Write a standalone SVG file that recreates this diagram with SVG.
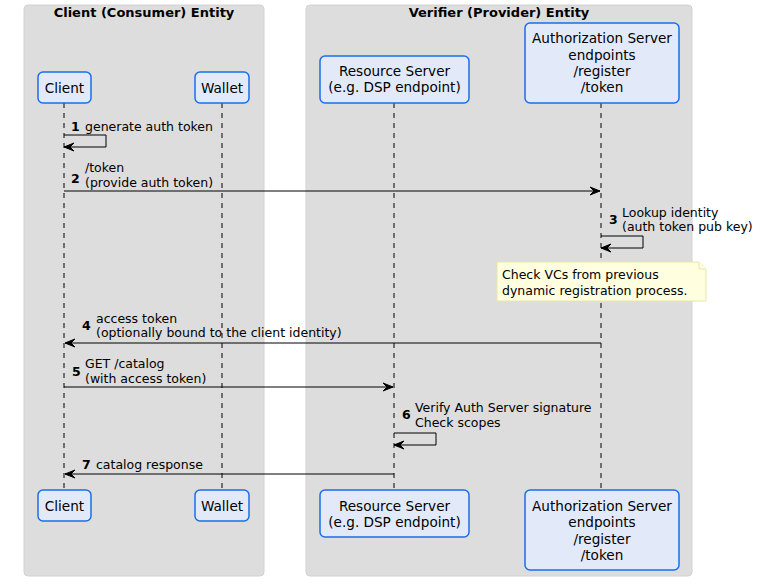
<svg xmlns="http://www.w3.org/2000/svg" width="765" height="585" viewBox="0 0 765 585">
<defs>
<style>
.box{fill:#dddddd;stroke:#d2d2d2;stroke-width:1}
.title{font-family:"DejaVu Sans",sans-serif;font-size:13px;font-weight:bold;fill:#000;text-anchor:middle}
.part{fill:#e2eafa;stroke:#1a6ee8;stroke-width:1.5}
.pt{font-family:"DejaVu Sans",sans-serif;font-size:13.6px;fill:#000;text-anchor:middle}
.life{stroke:#000;stroke-width:1;stroke-dasharray:5,5;fill:none}
.msg{stroke:#000;stroke-width:1;fill:none}
.mt{font-family:"DejaVu Sans",sans-serif;font-size:12.5px;fill:#000}
.num{font-family:"DejaVu Sans",sans-serif;font-size:12.5px;font-weight:bold;fill:#000}
.ah{fill:#000;stroke:#000;stroke-width:1}
.note{fill:#ffffe0;stroke:#e8e6a8;stroke-width:1}
</style>
</defs>
<rect width="765" height="585" fill="#ffffff"/>
<g id="group-client-entity">
<rect class="box" x="24" y="5" width="240" height="571" rx="4"/>
<text class="title" x="144" y="17">Client (Consumer) Entity</text>
</g>
<g id="group-verifier-entity">
<rect class="box" x="306" y="5" width="386" height="571" rx="4"/>
<text class="title" x="499" y="17">Verifier (Provider) Entity</text>
</g>
<g id="lifelines">
<line class="life" x1="64" y1="103" x2="64" y2="490"/>
<line class="life" x1="222" y1="103" x2="222" y2="490"/>
<line class="life" x1="394" y1="103" x2="394" y2="490"/>
<line class="life" x1="601" y1="103" x2="601" y2="490"/>
</g>
<g id="client">
<rect class="part" x="38" y="72" width="53" height="31" rx="5"/>
<text class="pt" x="64.5" y="93">Client</text>
<rect class="part" x="38" y="490" width="53" height="31" rx="5"/>
<text class="pt" x="64.5" y="511">Client</text>
</g>
<g id="wallet">
<rect class="part" x="195" y="72" width="54" height="31" rx="5"/>
<text class="pt" x="222" y="93">Wallet</text>
<rect class="part" x="195" y="490" width="54" height="31" rx="5"/>
<text class="pt" x="222" y="511">Wallet</text>
</g>
<g id="resource-server">
<rect class="part" x="320" y="56" width="149" height="47" rx="5"/>
<text class="pt" x="394.5" y="76">Resource Server</text>
<text class="pt" x="394.5" y="92">(e.g. DSP endpoint)</text>
<rect class="part" x="320" y="490" width="149" height="47" rx="5"/>
<text class="pt" x="394.5" y="511">Resource Server</text>
<text class="pt" x="394.5" y="527">(e.g. DSP endpoint)</text>
</g>
<g id="authorization-server">
<rect class="part" x="525" y="23" width="154" height="80" rx="5"/>
<text class="pt" x="602" y="43">Authorization Server</text>
<text class="pt" x="602" y="59.5">endpoints</text>
<text class="pt" x="602" y="76">/register</text>
<text class="pt" x="602" y="92">/token</text>
<rect class="part" x="525" y="490" width="154" height="80" rx="5"/>
<text class="pt" x="602" y="511">Authorization Server</text>
<text class="pt" x="602" y="527">endpoints</text>
<text class="pt" x="602" y="544">/register</text>
<text class="pt" x="602" y="560">/token</text>
</g>
<g id="note-check-vcs">
<path class="note" d="M497,262 H699 L706,269 V301 H497 Z"/>
<path class="note" d="M699,262 V269 H706"/>
<text class="mt" x="502" y="279">Check VCs from previous</text>
<text class="mt" x="502" y="295">dynamic registration process.</text>
</g>
<g id="connectors">
<polyline class="msg" points="64,135 106,135 106,147 64,147"/>
<polygon class="ah" points="74,143 64,147 74,151 70,147"/>
<text class="num" x="71" y="131">1</text>
<text class="mt" x="85" y="131">generate auth token</text>

<line class="msg" x1="64" y1="191" x2="600" y2="191"/>
<polygon class="ah" points="590,187 600,191 590,195 594,191"/>
<text class="num" x="71" y="183">2</text>
<text class="mt" x="85" y="172">/token</text>
<text class="mt" x="85" y="187">(provide auth token)</text>

<polyline class="msg" points="601,236 643,236 643,248 601,248"/>
<polygon class="ah" points="611,244 601,248 611,252 607,248"/>
<text class="num" x="609" y="224">3</text>
<text class="mt" x="622" y="217">Lookup identity</text>
<text class="mt" x="622" y="231">(auth token pub key)</text>

<line class="msg" x1="65" y1="343" x2="601" y2="343"/>
<polygon class="ah" points="75,339 65,343 75,347 71,343"/>
<text class="num" x="82" y="330">4</text>
<text class="mt" x="96" y="323">access token</text>
<text class="mt" x="96" y="337">(optionally bound to the client identity)</text>

<line class="msg" x1="64" y1="387" x2="393" y2="387"/>
<polygon class="ah" points="383,383 393,387 383,391 387,387"/>
<text class="num" x="72" y="376">5</text>
<text class="mt" x="85" y="368">GET /catalog</text>
<text class="mt" x="85" y="383">(with access token)</text>

<polyline class="msg" points="394,433 436,433 436,445 394,445"/>
<polygon class="ah" points="404,441 394,445 404,449 400,445"/>
<text class="num" x="402" y="419">6</text>
<text class="mt" x="415" y="412">Verify Auth Server signature</text>
<text class="mt" x="415" y="427">Check scopes</text>

<line class="msg" x1="65" y1="474" x2="394" y2="474"/>
<polygon class="ah" points="75,470 65,474 75,478 71,474"/>
<text class="num" x="82" y="469">7</text>
<text class="mt" x="96" y="469">catalog response</text>
</g>
</svg>
